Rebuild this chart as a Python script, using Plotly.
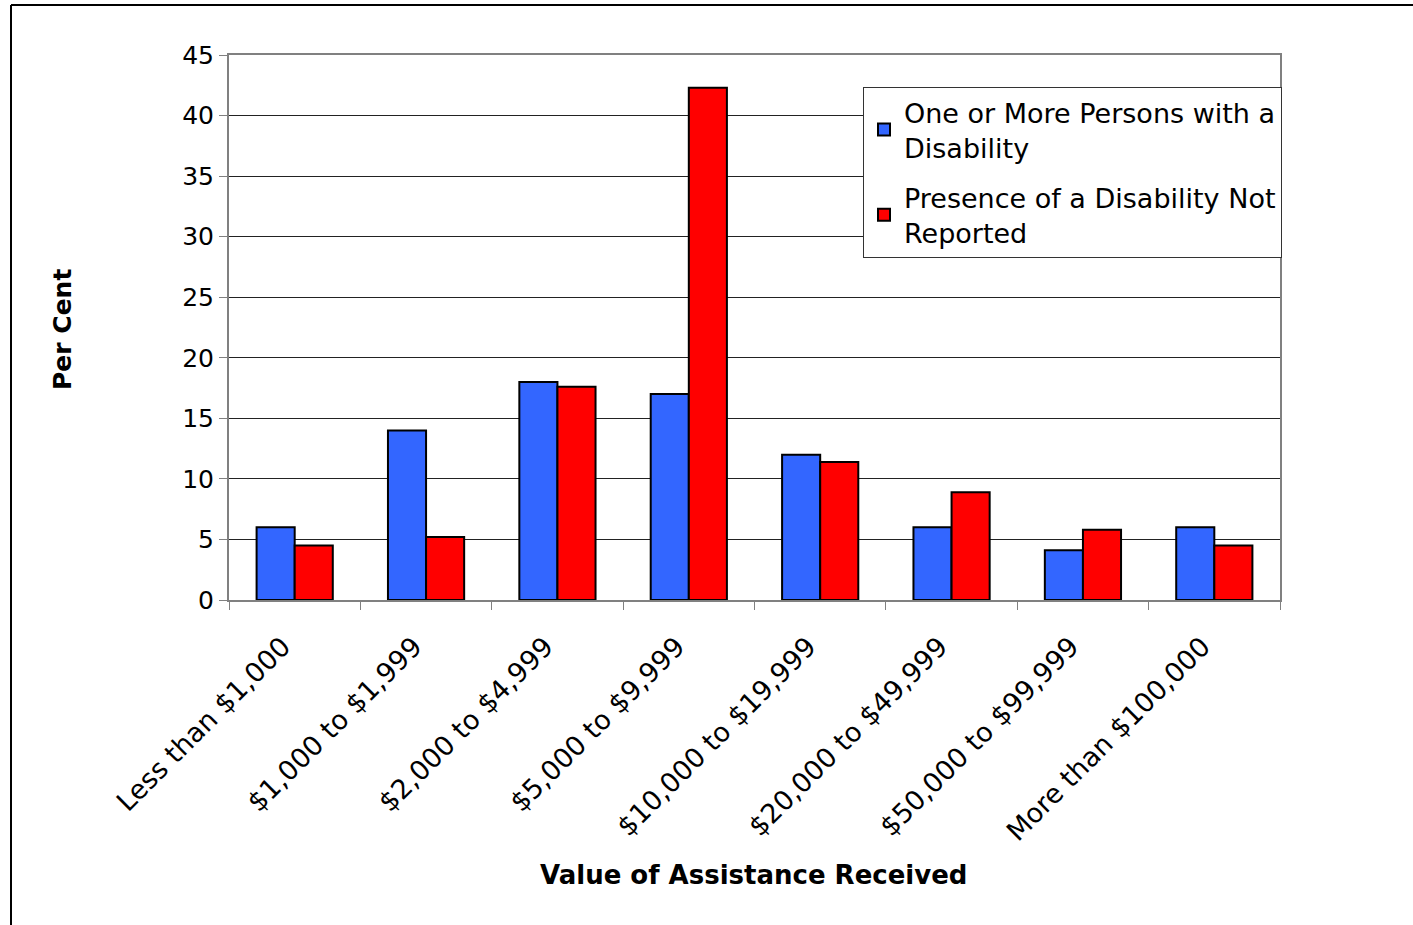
import plotly.graph_objects as go

categories = ["Less than $1,000", "$1,000 to $1,999", "$2,000 to $4,999", "$5,000 to $9,999",
              "$10,000 to $19,999", "$20,000 to $49,999", "$50,000 to $99,999", "More than $100,000"]
disability = [6.0, 14.0, 18.0, 17.0, 12.0, 6.0, 4.1, 6.0]
not_reported = [4.5, 5.2, 17.6, 42.3, 11.4, 8.9, 5.8, 4.5]
series_names = ["One or More Persons with a<br>Disability", "Presence of a Disability Not<br>Reported"]
y_ticks = [0, 5, 10, 15, 20, 25, 30, 35, 40, 45]

FONT = "DejaVu Sans, Liberation Sans, Arial, sans-serif"

# plot area in page pixels: x 229..1280, y 55..600 (body margin removed below)
L, R, T, B = 229, 1413 - 1280, 55, 925 - 600
PW, PH = 1051, 545

fig = go.Figure()
fig.add_trace(go.Bar(x=categories, y=disability, name=series_names[0], legendgroup="g1",
                     marker=dict(color="#3366FF", line=dict(color="black", width=2))))
fig.add_trace(go.Bar(x=categories, y=not_reported, name=series_names[1], legendgroup="g2",
                     marker=dict(color="#FF0000", line=dict(color="black", width=2))))

fig.update_layout(
    width=1413, height=925,
    margin=dict(l=L, r=R, t=T, b=B),
    paper_bgcolor="white", plot_bgcolor="white",
    barmode="group", bargap=0.42, bargroupgap=0,
    font=dict(family=FONT, size=25, color="black"),
    showlegend=True,
    legend=dict(x=(863 - 229) / PW, y=1 - (87 - 55) / PH, xanchor="left", yanchor="top",
                bgcolor="white", bordercolor="#333333", borderwidth=1,
                font=dict(size=27), tracegroupgap=12, itemsizing="constant"),
    xaxis=dict(showline=True, linecolor="#808080", linewidth=2, mirror=True,
               ticks="outside", ticklen=8, tickcolor="#808080", tickson="boundaries",
               tickangle=-45, tickfont=dict(size=27), showgrid=False,
               ticklabelstandoff=18, ticklabelshift=-12),
    yaxis=dict(range=[0, 45], tickvals=y_ticks, showline=True, linecolor="#808080", linewidth=2,
               mirror=True, ticks="outside", ticklen=8, tickcolor="#808080",
               showgrid=True, gridcolor="#222222", gridwidth=1, tickfont=dict(size=25),
               zeroline=False),
    annotations=[
        dict(text="<b>Per Cent</b>", xref="paper", yref="paper", x=(62 - 229) / PW, y=1 - (330 - 55) / PH,
             textangle=-90, showarrow=False, font=dict(size=25), xanchor="center", yanchor="middle"),
        dict(text="<b>Value of Assistance Received</b>", xref="paper", yref="paper", x=(753 - 229) / PW,
             y=-(875 - 600) / PH, showarrow=False, font=dict(size=26), xanchor="center", yanchor="middle"),
    ],
    shapes=[
        dict(type="line", xref="paper", yref="paper", x0=(11 - 229) / PW, x1=1.2,
             y0=1 + (55 - 5) / PH, y1=1 + (55 - 5) / PH, line=dict(color="black", width=2)),
        dict(type="line", xref="paper", yref="paper", x0=(11 - 229) / PW, x1=(11 - 229) / PW,
             y0=1 + (55 - 5) / PH, y1=-0.7, line=dict(color="black", width=2)),
    ],
)

fig.write_html("out.html", config={"displayModeBar": False},
               post_script="document.body.style.margin='0';")
